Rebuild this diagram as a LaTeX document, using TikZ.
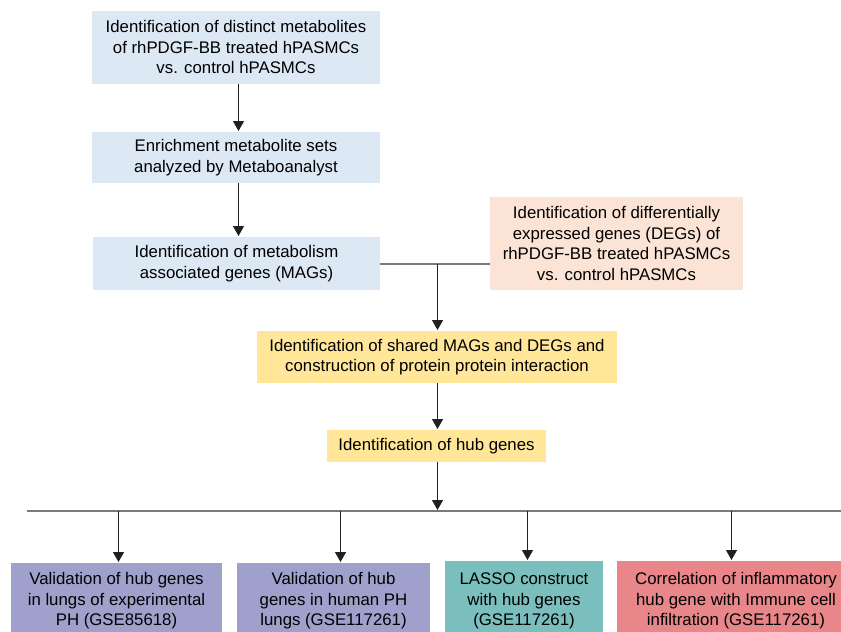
\documentclass[tikz,border=0pt]{standalone}
\usepackage{fontspec}
\setmainfont{Liberation Sans}
\usetikzlibrary{arrows.meta,calc}
\definecolor{cblue}{HTML}{DDE8F5}
\definecolor{corange}{HTML}{FBE4D5}
\definecolor{cyellow}{HTML}{FFE699}
\definecolor{cpurple}{HTML}{A0A0CC}
\definecolor{cteal}{HTML}{7ABEBD}
\definecolor{cpink}{HTML}{E8868A}
\definecolor{cline}{HTML}{202020}
\definecolor{cbus}{HTML}{7A7A7A}
\tikzset{
  box/.style={draw=none, align=center, inner sep=0pt, outer sep=0pt,
    font=\fontsize{16.8}{20.5}\selectfont},
  arr/.style={draw=cline, line width=1.3pt, shorten >=1pt,
    -{Triangle[width=11pt,length=10pt]}},
  thin/.style={draw=cbus, line width=1.2pt},
  bus/.style={draw=cbus, line width=2pt}
}
\begin{document}
\begin{tikzpicture}[x=1pt,y=-1pt]
\useasboundingbox (0,0) rectangle (841,632);
\clip (0,0) rectangle (841,632);
\fill[white] (0,0) rectangle (841,632);

\node[box, fill=cblue, minimum width=288pt, minimum height=73pt] (b1) at (236,47)
  {Identification of distinct metabolites\\of rhPDGF-BB treated hPASMCs\\vs. control hPASMCs};
\node[box, fill=cblue, minimum width=288pt, minimum height=51pt] (b2) at (236,157.5)
  {Enrichment metabolite sets\\analyzed by Metaboanalyst};
\node[box, fill=cblue, minimum width=287pt, minimum height=53pt] (b3) at (236.5,263.5)
  {Identification of metabolism\\associated genes (MAGs)};
\node[box, fill=corange, minimum width=253pt, minimum height=93pt] (deg) at (616.5,243.5)
  {Identification of differentially\\expressed genes (DEGs) of\\rhPDGF-BB treated hPASMCs\\vs. control hPASMCs};
\node[box, fill=cyellow, minimum width=360pt, minimum height=52pt] (shared) at (437,357)
  {Identification of shared MAGs and DEGs and\\construction of protein protein interaction};
\node[box, fill=cyellow, minimum width=219pt, minimum height=32pt] (hub) at (436.5,446)
  {Identification of hub genes};

\node[box, fill=cpurple, minimum width=211pt, minimum height=76pt] (A) at (116.5,601)
  {Validation of hub genes\\in lungs of experimental\\PH (GSE85618)};
\node[box, fill=cpurple, minimum width=193pt, minimum height=76pt] (B) at (333.5,601)
  {Validation of hub\\genes in human PH\\lungs (GSE117261)};
\node[box, fill=cteal, minimum width=158pt, minimum height=80pt] (C) at (524,601)
  {LASSO construct\\with hub genes\\(GSE117261)};
\node[box, fill=cpink, minimum width=238pt, minimum height=80pt] (D) at (736,601)
  {Correlation of inflammatory\\hub gene with Immune cell\\infiltration (GSE117261)};

% vertical guide positions
\coordinate (a1) at (238.5,0);
\coordinate (a2) at (437.5,0);

% top chain
\draw[arr] (a1 |- b1.south) -- (a1 |- b2.north);
\draw[arr] (a1 |- b2.south) -- (a1 |- b3.north);

% join of MAGs and DEGs
\coordinate (j) at (437.5,264);
\draw[thin] (b3.east |- j) -- (deg.west |- j);
\draw[arr] (j) -- (j |- shared.north);
\draw[arr] (a2 |- shared.south) -- (a2 |- hub.north);

% bus
\coordinate (busL) at (27,511);
\coordinate (busR) at (841,511);
\draw[bus] (busL) -- (busR);
\draw[arr] (a2 |- hub.south) -- (a2 |- busL);
\coordinate (tA) at (118.5,511);
\coordinate (tB) at (340.5,511);
\coordinate (tC) at (527.5,511);
\coordinate (tD) at (731.5,511);
\draw[arr] (tA) -- (tA |- A.north);
\draw[arr] (tB) -- (tB |- B.north);
\draw[arr] (tC) -- (tC |- C.north);
\draw[arr] (tD) -- (tD |- D.north);
\end{tikzpicture}
\end{document}
